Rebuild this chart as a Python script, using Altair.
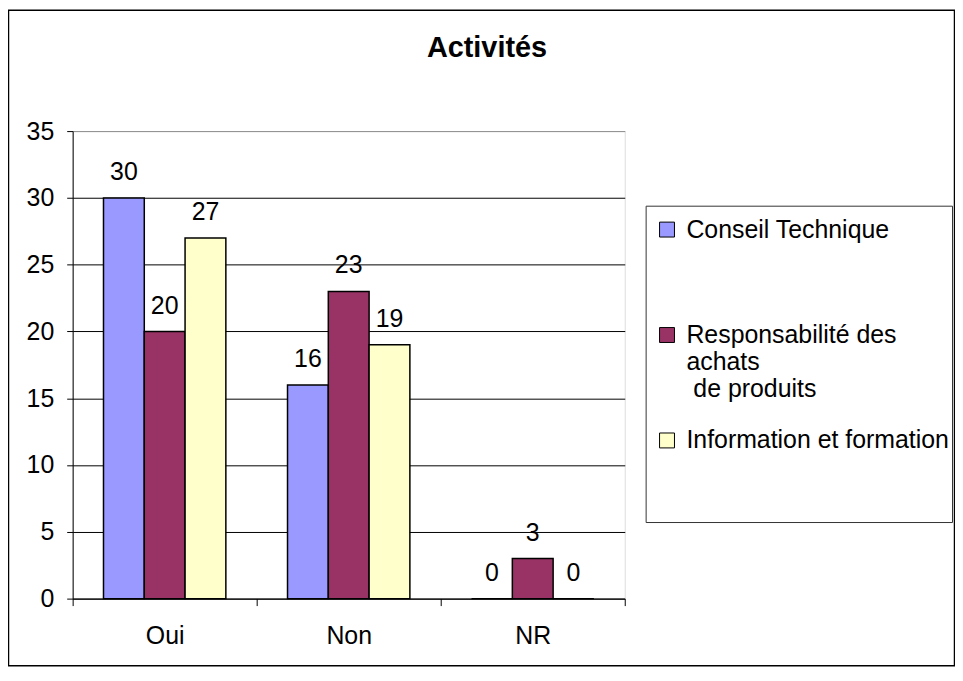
import altair as alt
import pandas as pd

categories = ["Oui", "Non", "NR"]
series = ["Conseil Technique", "Responsabilité des|achats|\u200b\u00a0de produits", "Information et formation"]
conseil = [30, 16, 0]
responsabilite = [20, 23, 3]
information = [27, 19, 0]
colors = ["#9999FF", "#993366", "#FFFFCC"]
y_ticks = [0, 5, 10, 15, 20, 25, 30, 35]

rows = []
for s, vals in zip(series, [conseil, responsabilite, information]):
    for c, v in zip(categories, vals):
        rows.append({"cat": c, "serie": s, "val": v})
df = pd.DataFrame(rows)

FONT = "Liberation Sans"
W, H = 555, 470

x_enc = alt.X("cat:N", sort=categories, title=None,
              scale=alt.Scale(paddingInner=0, paddingOuter=0),
              axis=alt.Axis(labelAngle=0, labelFontSize=25, labelFont=FONT, labelColor="black",
                            labelPadding=18, tickSize=7, tickColor="black", tickBand="extent",
                            domainColor="black", grid=False))
xo_enc = alt.XOffset("serie:N", sort=series,
                     scale=alt.Scale(paddingInner=0, paddingOuter=0.756))
y_enc = alt.Y("val:Q", title=None,
              scale=alt.Scale(domain=[0, 35], nice=False),
              axis=alt.Axis(values=y_ticks, labelFontSize=25, labelFont=FONT, labelColor="black",
                            labelPadding=13, tickSize=6, tickColor="black", domainColor="black",
                            grid=True,
                            gridColor={"condition": {"test": "datum.value >= 35", "value": "#8c8c8c"},
                                       "value": "black"},
                            gridWidth=1))

bars = alt.Chart(df).mark_bar(stroke="black", strokeWidth=1.5).encode(
    x=x_enc, xOffset=xo_enc, y=y_enc,
    color=alt.Color("serie:N", sort=series,
                    scale=alt.Scale(domain=series, range=colors),
                    legend=alt.Legend(title=None, orient="none", legendX=585, legendY=86.5,
                                      padding=0, rowPadding=26, gridAlign="all",
                                      symbolType="square", symbolSize=225,
                                      symbolStrokeColor="black", symbolStrokeWidth=1,
                                      symbolOpacity=1,
                                      labelOffset=7, labelFontSize=25, labelFont=FONT,
                                      labelColor="black", labelLimit=400,
                                      labelExpr="split(datum.label, '|')")),
)

labels = alt.Chart(df).mark_text(fontSize=25, font=FONT, color="black", baseline="middle", dy=-26).encode(
    x=alt.X("cat:N", sort=categories), xOffset=alt.XOffset("serie:N", sort=series), y="val:Q",
    text="val:Q",
)

frame_df = pd.DataFrame({"k": [0]})
outer = alt.Chart(frame_df).mark_rect(fill=None, stroke="black", strokeWidth=1.5).encode(
    x=alt.value(-64.5), x2=alt.value(W + 331.5), y=alt.value(-121.5), y2=alt.value(H + 67.5))
legend_box = alt.Chart(frame_df).mark_rect(fill=None, stroke="#333333", strokeWidth=1).encode(
    x=alt.value(576.5), x2=alt.value(884.5), y=alt.value(75.5), y2=alt.value(393.5))

chart = alt.layer(outer, legend_box, bars, labels).properties(
    width=W, height=H,
    title=alt.TitleParams("Activités", fontSize=29, fontWeight="bold", font=FONT, color="black",
                          anchor="middle", frame="group", dx=139, baseline="alphabetic", offset=-77),
    autosize=alt.AutoSizeParams(type="none"),
    padding={"left": 65, "top": 122, "right": 332, "bottom": 68},
).configure_view(stroke="#8c8c8c", strokeWidth=2).configure(background="white")

chart.save("out.html", embed_options={"renderer": "svg", "actions": False})
